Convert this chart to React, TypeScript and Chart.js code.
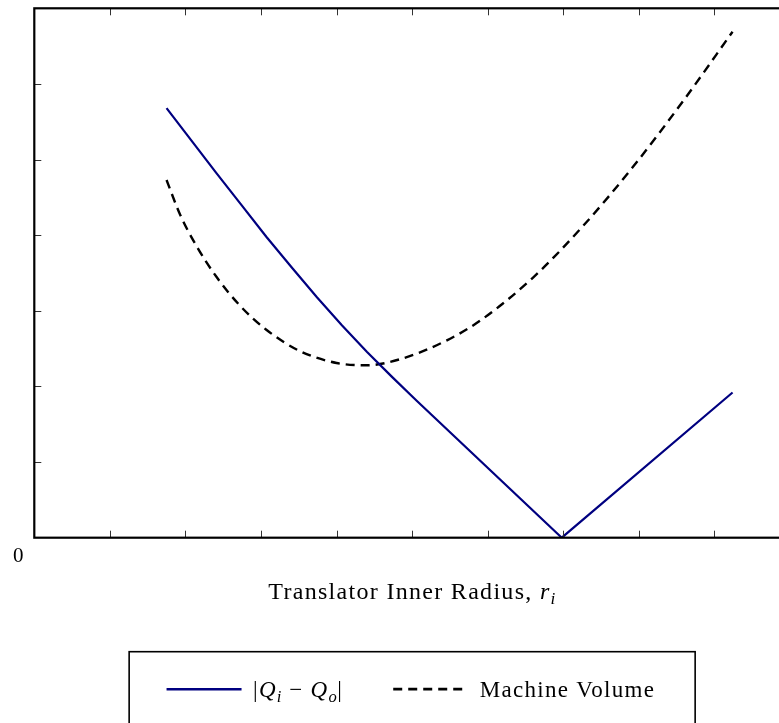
import { useEffect, useRef } from "react";
import { Chart, registerables } from "chart.js";

Chart.register(...registerables);

// |Q_i - Q_o| against translator inner radius
const radiusFlow = [1.75, 2.08, 2.41, 2.74, 3.07, 3.41, 3.74, 4.07, 4.4, 4.73, 5.06, 6.98, 9.24];
const flowDiff = [5.68, 5.25, 4.82, 4.4, 3.98, 3.57, 3.18, 2.81, 2.46, 2.13, 1.81, 0, 1.92];

// Machine volume against translator inner radius
const radiusVolume = [1.75, 1.93, 2.15, 2.41, 2.72, 3.07, 3.51, 4.0, 4.4, 4.84, 5.46, 5.9, 6.6, 7.26, 7.92, 8.59, 9.24];
const machineVolume = [4.73, 4.27, 3.85, 3.45, 3.07, 2.75, 2.47, 2.31, 2.28, 2.36, 2.61, 2.87, 3.44, 4.12, 4.9, 5.78, 6.69];

// Axis extents and tick positions (only the origin is labelled)
const xRange = [0, 10];
const yRange = [0, 7];
const xTickValues = [1, 2, 3, 4, 5, 6, 7, 8, 9];
const yTickValues = [1, 2, 3, 4, 5, 6];
const originLabel = "0";

const SERIF = '"Liberation Serif", "Times New Roman", serif';

type Seg = { t: string; it?: boolean; sub?: boolean };

const titleSegs: Seg[] = [
  { t: "Translator Inner Radius, " },
  { t: "r", it: true },
  { t: "i", it: true, sub: true },
];
const flowLabelSegs: Seg[] = [
  { t: "|" },
  { t: "Q", it: true },
  { t: "i", it: true, sub: true },
  { t: " − " },
  { t: "Q", it: true },
  { t: "o", it: true, sub: true },
  { t: "|" },
];
const volumeLabelSegs: Seg[] = [{ t: "Machine Volume" }];

function setSegFont(ctx: CanvasRenderingContext2D, s: Seg, size: number) {
  const sz = s.sub ? size * 0.72 : size;
  ctx.font = `${s.it ? "italic " : ""}${sz}px ${SERIF}`;
}

function measureSegs(ctx: CanvasRenderingContext2D, segs: Seg[], size: number, spacing: number) {
  let w = 0;
  for (const s of segs) {
    setSegFont(ctx, s, size);
    (ctx as any).letterSpacing = `${s.sub ? spacing * 0.5 : spacing}px`;
    w += ctx.measureText(s.t).width;
  }
  return w;
}

function drawSegs(
  ctx: CanvasRenderingContext2D,
  segs: Seg[],
  x: number,
  y: number,
  size: number,
  spacing: number
) {
  ctx.textAlign = "left";
  ctx.textBaseline = "alphabetic";
  let cx = x;
  for (const s of segs) {
    setSegFont(ctx, s, size);
    (ctx as any).letterSpacing = `${s.sub ? spacing * 0.5 : spacing}px`;
    ctx.fillText(s.t, cx, s.sub ? y + size * 0.2 : y);
    cx += ctx.measureText(s.t).width;
  }
}

const framePlugin = {
  id: "frameAndText",
  afterDraw(chart: Chart) {
    const { ctx, chartArea } = chart;
    const xs = chart.scales.x;
    const ys = chart.scales.y;
    const { left, top, bottom, right } = chartArea;
    ctx.save();

    // inward tick marks
    ctx.strokeStyle = "#333";
    ctx.lineWidth = 1;
    const tl = 7;
    ctx.beginPath();
    for (const v of xTickValues) {
      const px = Math.round(xs.getPixelForValue(v)) + 0.5;
      ctx.moveTo(px, bottom);
      ctx.lineTo(px, bottom - tl);
      ctx.moveTo(px, top);
      ctx.lineTo(px, top + tl);
    }
    for (const v of yTickValues) {
      const py = Math.round(ys.getPixelForValue(v)) + 0.5;
      ctx.moveTo(left, py);
      ctx.lineTo(left + tl, py);
      ctx.moveTo(right, py);
      ctx.lineTo(right - tl, py);
    }
    ctx.stroke();

    // spines
    ctx.strokeStyle = "#000";
    ctx.lineWidth = 2.2;
    ctx.strokeRect(left, top, right - left, bottom - top);

    ctx.fillStyle = "#000";

    // origin label
    ctx.font = `21px ${SERIF}`;
    (ctx as any).letterSpacing = "0px";
    ctx.textAlign = "center";
    ctx.textBaseline = "alphabetic";
    ctx.fillText(originLabel, left - 16, bottom + 24);

    const cxMid = (left + right) / 2;

    // x-axis title
    const tSize = 24;
    const tSp = 1.3;
    const tw = measureSegs(ctx, titleSegs, tSize, tSp);
    drawSegs(ctx, titleSegs, cxMid - tw / 2, bottom + 61.5, tSize, tSp);

    // legend box below the axes
    const boxW = 566;
    const boxL = cxMid - boxW / 2;
    const boxT = bottom + 114;
    ctx.strokeStyle = "#000";
    ctx.lineWidth = 1.6;
    ctx.strokeRect(boxL, boxT, boxW, 120);

    const lSize = 23;
    const lSp = 1.3;
    const handle = 75;
    const pad = 11.5;
    const gap = 50;
    const w1 = measureSegs(ctx, flowLabelSegs, lSize, lSp);
    const w2 = measureSegs(ctx, volumeLabelSegs, lSize, lSp);
    let lx = boxL + 37.4;
    const ly = boxT + 37.5;
    const ds = chart.data.datasets as any[];
    const entries: [any, Seg[], number][] = [
      [ds[0], flowLabelSegs, w1],
      [ds[1], volumeLabelSegs, w2],
    ];
    entries.forEach(([d, segs, w], i) => {
      ctx.strokeStyle = d.borderColor;
      ctx.lineWidth = d.borderWidth + 0.4;
      ctx.setLineDash(d.borderDash || []);
      ctx.lineCap = "butt";
      ctx.beginPath();
      ctx.moveTo(lx, ly);
      ctx.lineTo(lx + handle, ly);
      ctx.stroke();
      ctx.setLineDash([]);
      lx += handle + pad;
      ctx.fillStyle = "#000";
      drawSegs(ctx, segs, lx, ly + 8, lSize, lSp);
      lx += w + (i === 0 ? gap : 0);
    });

    ctx.restore();
  },
};

export default function App() {
  const canvasRef = useRef<HTMLCanvasElement | null>(null);

  useEffect(() => {
    if (!canvasRef.current) return;
    const chart = new Chart(canvasRef.current, {
      type: "line",
      data: {
        datasets: [
          {
            label: "|Qi − Qo|",
            data: radiusFlow.map((x, i) => ({ x, y: flowDiff[i] })),
            borderColor: "#000080",
            borderWidth: 2.2,
            pointRadius: 0,
            tension: 0,
            fill: false,
          },
          {
            label: "Machine Volume",
            data: radiusVolume.map((x, i) => ({ x, y: machineVolume[i] })),
            borderColor: "#000000",
            borderWidth: 2.4,
            borderDash: [9, 6],
            pointRadius: 0,
            cubicInterpolationMode: "monotone",
            fill: false,
          },
        ],
      },
      options: {
        responsive: false,
        animation: false,
        devicePixelRatio: 1,
        layout: { padding: { left: 34.3, top: 8.3, right: 10, bottom: 185.3 } },
        plugins: { legend: { display: false }, tooltip: { enabled: false } },
        scales: {
          x: { type: "linear", display: false, min: xRange[0], max: xRange[1] },
          y: { type: "linear", display: false, min: yRange[0], max: yRange[1] },
        },
      },
      plugins: [framePlugin],
    });
    return () => chart.destroy();
  }, []);

  return (
    <div
      style={{
        position: "absolute",
        left: 0,
        top: 0,
        width: 779,
        height: 723,
        overflow: "hidden",
        background: "#fff",
      }}
    >
      <canvas ref={canvasRef} width={800} height={723} style={{ display: "block" }} />
    </div>
  );
}
